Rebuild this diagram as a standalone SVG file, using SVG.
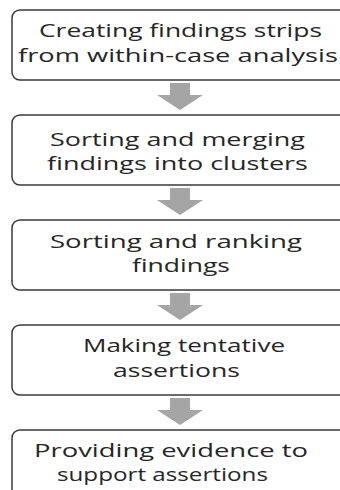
<svg xmlns="http://www.w3.org/2000/svg" width="340" height="490" viewBox="0 0 340 490">
  <style>
    .box { fill: #ffffff; stroke: #3a3a3a; stroke-width: 1.5; }
    .lbl { font-family: "Open Sans", "Liberation Sans", sans-serif; font-size: 19px; fill: #262626; }
    .arrow { fill: #a5a5a5; stroke: none; }
  </style>
  <defs>
    <!-- block arrow, origin at the top of its shaft -->
    <path id="down" d="M -12 0 H 8 V 12 H 21 L -2 27 L -25 12 H -12 Z"/>
  </defs>
  <rect width="340" height="490" fill="#ffffff"/>

  <g id="connectors">
    <use href="#down" class="arrow" x="182" y="83"/>
    <use href="#down" class="arrow" x="182" y="188"/>
    <use href="#down" class="arrow" x="182" y="293"/>
    <use href="#down" class="arrow" x="182" y="398"/>
  </g>

  <g id="step1">
    <rect class="box" x="12" y="10" width="360" height="70" rx="8"/>
    <text class="lbl" x="39" y="37" textLength="283" lengthAdjust="spacingAndGlyphs">Creating findings strips</text>
    <text class="lbl" x="18" y="62" textLength="320" lengthAdjust="spacingAndGlyphs">from within-case analysis</text>
  </g>
  <g id="step2">
    <rect class="box" x="12" y="115" width="360" height="70" rx="8"/>
    <text class="lbl" x="50" y="146" textLength="255" lengthAdjust="spacingAndGlyphs">Sorting and merging</text>
    <text class="lbl" x="47" y="170" textLength="261" lengthAdjust="spacingAndGlyphs">findings into clusters</text>
  </g>
  <g id="step3">
    <rect class="box" x="12" y="220" width="360" height="70" rx="8"/>
    <text class="lbl" x="50" y="248" textLength="252" lengthAdjust="spacingAndGlyphs">Sorting and ranking</text>
    <text class="lbl" x="132" y="272" textLength="98" lengthAdjust="spacingAndGlyphs">findings</text>
  </g>
  <g id="step4">
    <rect class="box" x="12" y="325" width="360" height="70" rx="8"/>
    <text class="lbl" x="83" y="352" textLength="202" lengthAdjust="spacingAndGlyphs">Making tentative</text>
    <text class="lbl" x="113" y="377" textLength="127" lengthAdjust="spacingAndGlyphs">assertions</text>
  </g>
  <g id="step5">
    <rect class="box" x="12" y="430" width="360" height="80" rx="8"/>
    <text class="lbl" x="34" y="457" textLength="274" lengthAdjust="spacingAndGlyphs">Providing evidence to</text>
    <text class="lbl" x="57" y="481" textLength="211" lengthAdjust="spacingAndGlyphs">support assertions</text>
  </g>
</svg>
